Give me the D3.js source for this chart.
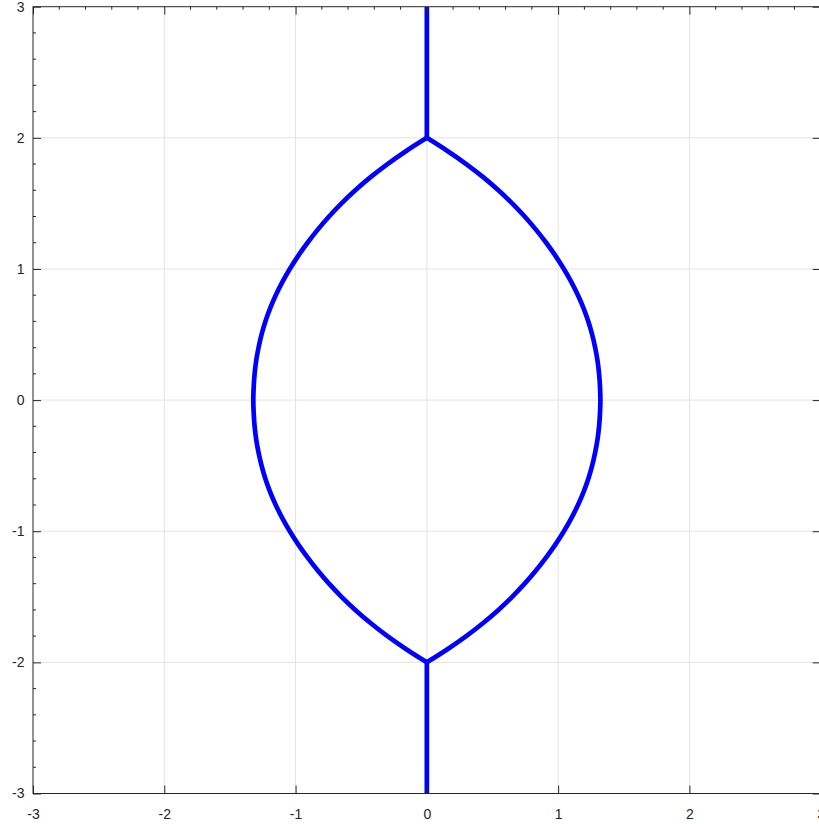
<!DOCTYPE html>
<html>
<head>
<meta charset="utf-8">
<script src="https://cdn.jsdelivr.net/npm/d3@7"></script>
<style>
  html, body { margin: 0; padding: 0; background: #fff; }
  svg { display: block; }
  .tick text { font-family: "Liberation Sans", Arial, Helvetica, sans-serif; font-size: 14px; fill: #262626; }
</style>
</head>
<body>
<svg id="chart" width="819" height="824"></svg>
<script>
// Axis tick values
const xTicks = [-3, -2, -1, 0, 1, 2, 3];
const yTicks = [-3, -2, -1, 0, 1, 2, 3];
const minorTicks = [-2.8, -2.6, -2.4, -2.2, -1.8, -1.6, -1.4, -1.2, -0.8, -0.6, -0.4, -0.2,
                    0.2, 0.4, 0.6, 0.8, 1.2, 1.4, 1.6, 1.8, 2.2, 2.4, 2.6, 2.8];

// Locus branches: two vertical rays on the imaginary axis and the two arcs of the lens
const upperRay = [[0, 2], [0, 3]];
const lowerRay = [[0, -2], [0, -3]];
const leftArc = [
  [0, 2], [-0.157, 1.9], [-0.300, 1.8], [-0.429, 1.7], [-0.545, 1.6], [-0.650, 1.5],
  [-0.745, 1.4], [-0.831, 1.3], [-0.909, 1.2], [-0.980, 1.1], [-1.044, 1.0],
  [-1.101, 0.9], [-1.151, 0.8], [-1.194, 0.7], [-1.230, 0.6], [-1.259, 0.5],
  [-1.282, 0.4], [-1.300, 0.3], [-1.312, 0.2], [-1.319, 0.1], [-1.322, 0],
  [-1.319, -0.1], [-1.312, -0.2], [-1.300, -0.3], [-1.282, -0.4], [-1.259, -0.5],
  [-1.230, -0.6], [-1.194, -0.7], [-1.151, -0.8], [-1.101, -0.9], [-1.044, -1.0],
  [-0.980, -1.1], [-0.909, -1.2], [-0.831, -1.3], [-0.745, -1.4], [-0.650, -1.5],
  [-0.545, -1.6], [-0.429, -1.7], [-0.300, -1.8], [-0.157, -1.9], [0, -2]
];
const rightArc = [
  [0, 2], [0.157, 1.9], [0.300, 1.8], [0.429, 1.7], [0.545, 1.6], [0.650, 1.5],
  [0.745, 1.4], [0.831, 1.3], [0.909, 1.2], [0.980, 1.1], [1.044, 1.0],
  [1.101, 0.9], [1.151, 0.8], [1.194, 0.7], [1.230, 0.6], [1.259, 0.5],
  [1.282, 0.4], [1.300, 0.3], [1.312, 0.2], [1.319, 0.1], [1.322, 0],
  [1.319, -0.1], [1.312, -0.2], [1.300, -0.3], [1.282, -0.4], [1.259, -0.5],
  [1.230, -0.6], [1.194, -0.7], [1.151, -0.8], [1.101, -0.9], [1.044, -1.0],
  [0.980, -1.1], [0.909, -1.2], [0.831, -1.3], [0.745, -1.4], [0.650, -1.5],
  [0.545, -1.6], [0.429, -1.7], [0.300, -1.8], [0.157, -1.9], [0, -2]
];

const svg = d3.select("#chart");
const plot = { left: 33, right: 820.7, top: 6.7, bottom: 793.5 };

const x = d3.scaleLinear().domain([-3, 3]).range([plot.left, plot.right]);
const y = d3.scaleLinear().domain([-3, 3]).range([plot.bottom, plot.top]);

svg.append("rect").attr("width", 819).attr("height", 824).attr("fill", "#fff");

// Grid
const grid = svg.append("g").attr("stroke", "#e3e3e3").attr("stroke-width", 1);
grid.selectAll("line.vx").data(xTicks.slice(1, -1)).join("line")
  .attr("x1", d => x(d)).attr("x2", d => x(d))
  .attr("y1", plot.top).attr("y2", plot.bottom);
grid.selectAll("line.hy").data(yTicks.slice(1, -1)).join("line")
  .attr("x1", plot.left).attr("x2", plot.right)
  .attr("y1", d => y(d)).attr("y2", d => y(d));

// Curves, clipped to the axes box
svg.append("clipPath").attr("id", "clip").append("rect")
  .attr("x", plot.left).attr("y", plot.top)
  .attr("width", plot.right - plot.left).attr("height", plot.bottom - plot.top);

const line = d3.line().x(d => x(d[0])).y(d => y(d[1])).curve(d3.curveCatmullRom.alpha(0.5));
const curves = svg.append("g").attr("clip-path", "url(#clip)")
  .attr("fill", "none").attr("stroke", "#0000ff").attr("stroke-width", 4.7)
  .attr("stroke-linejoin", "round").attr("stroke-linecap", "butt");
[upperRay, lowerRay, leftArc, rightArc].forEach(pts => {
  curves.append("path").attr("d", line(pts));
});

// Axes: major ticks point inward, labels on bottom and left only
const axisColor = "#262626";
function styleAxis(g) {
  g.select(".domain").remove();
  g.selectAll(".tick line").attr("stroke", axisColor);
}
svg.append("g").attr("transform", `translate(0,${plot.bottom})`)
  .call(d3.axisBottom(x).tickValues(xTicks).tickSize(-8).tickPadding(16))
  .call(styleAxis)
  .call(g => g.selectAll(".tick text").attr("dy", "0.71em").text(d => String(d)));
svg.append("g").attr("transform", `translate(${plot.left},0)`)
  .call(d3.axisLeft(y).tickValues(yTicks).tickSize(-8).tickPadding(8.5))
  .call(styleAxis)
  .call(g => g.selectAll(".tick text").text(d => String(d)));
svg.append("g").attr("transform", `translate(0,${plot.top})`)
  .call(d3.axisTop(x).tickValues(xTicks).tickSize(-8).tickFormat(""))
  .call(styleAxis);
svg.append("g").attr("transform", `translate(${plot.right},0)`)
  .call(d3.axisRight(y).tickValues(yTicks).tickSize(-8).tickFormat(""))
  .call(styleAxis);

// Minor ticks on the top and left edges
const minor = svg.append("g").attr("stroke", axisColor).attr("stroke-width", 1);
minor.selectAll("line.mt").data(minorTicks).join("line")
  .attr("x1", d => x(d)).attr("x2", d => x(d))
  .attr("y1", plot.top).attr("y2", plot.top + 3);
minor.selectAll("line.ml").data(minorTicks).join("line")
  .attr("x1", plot.left).attr("x2", plot.left + 3)
  .attr("y1", d => y(d)).attr("y2", d => y(d));

// Axes box
svg.append("rect")
  .attr("x", plot.left).attr("y", plot.top)
  .attr("width", plot.right - plot.left).attr("height", plot.bottom - plot.top)
  .attr("fill", "none").attr("stroke", axisColor).attr("stroke-width", 1);
</script>
</body>
</html>
